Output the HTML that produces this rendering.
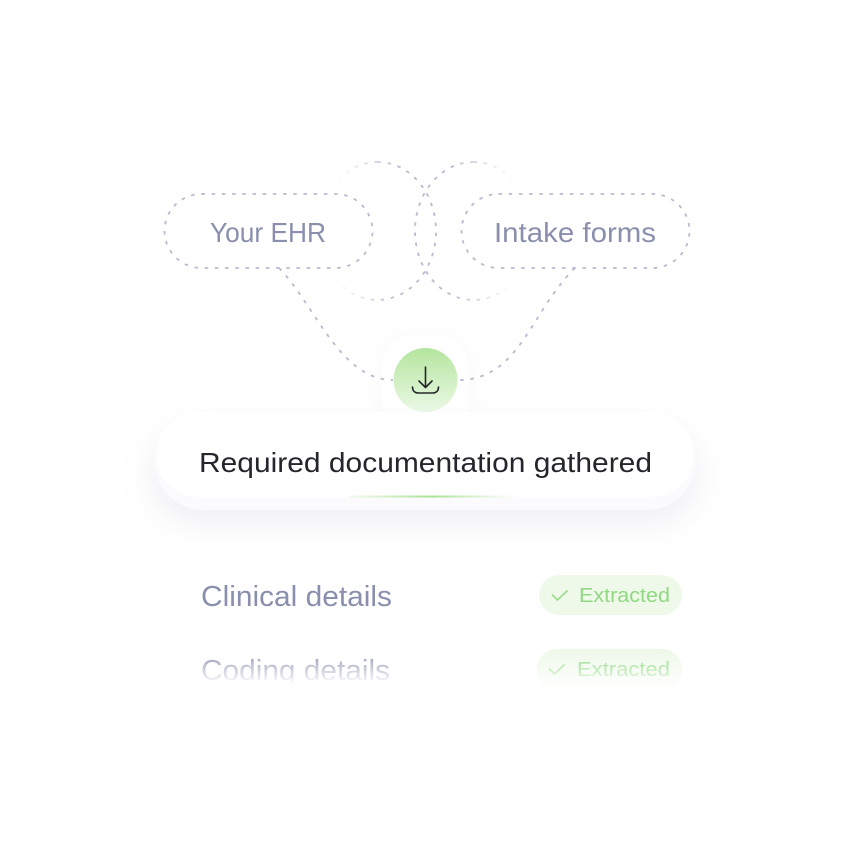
<!DOCTYPE html>
<html><head><meta charset="utf-8"><style>
html,body{margin:0;padding:0;background:#fff;width:853px;height:853px;overflow:hidden}
svg{display:block}
text{font-family:"Liberation Sans",sans-serif}
</style></head><body>
<svg width="853" height="853" viewBox="0 0 853 853" xmlns="http://www.w3.org/2000/svg">
<defs>
<linearGradient id="fl" gradientUnits="userSpaceOnUse" x1="335" y1="0" x2="400" y2="0"><stop offset="0" stop-color="#b9b9d0" stop-opacity="0"/><stop offset="1" stop-color="#b9b9d0"/></linearGradient>
<linearGradient id="fr" gradientUnits="userSpaceOnUse" x1="515" y1="0" x2="450" y2="0"><stop offset="0" stop-color="#b9b9d0" stop-opacity="0"/><stop offset="1" stop-color="#b9b9d0"/></linearGradient>
<linearGradient id="g" x1="0" y1="0" x2="0" y2="1"><stop offset="0" stop-color="#b4e59e"/><stop offset="1" stop-color="#ebf9e5"/></linearGradient>
<linearGradient id="bar" x1="0" y1="0" x2="1" y2="0"><stop offset="0" stop-color="#b5e6a0" stop-opacity=".2"/><stop offset=".5" stop-color="#a8e290"/><stop offset="1" stop-color="#b5e6a0" stop-opacity="0"/></linearGradient>
<linearGradient id="fade" gradientUnits="userSpaceOnUse" x1="0" y1="650" x2="0" y2="684"><stop offset="0" stop-color="#fff" stop-opacity="0"/><stop offset="1" stop-color="#fff"/></linearGradient>
<linearGradient id="fade2" gradientUnits="userSpaceOnUse" x1="0" y1="652" x2="0" y2="690"><stop offset="0" stop-color="#fff" stop-opacity="0"/><stop offset="1" stop-color="#fff"/></linearGradient>
<filter id="sh" x="-20%" y="-60%" width="140%" height="240%"><feGaussianBlur stdDeviation="18"/></filter>
<filter id="sh2" x="-50%" y="-50%" width="200%" height="200%"><feGaussianBlur stdDeviation="10"/></filter>
</defs>

<g fill="none" stroke-width="1.800" stroke-dasharray="3.500 6.700">
<rect x="319" y="162" width="117" height="138" rx="58.500" ry="69" stroke="url(#fl)"/>
<rect x="415" y="162" width="117" height="138" rx="58.500" ry="69" stroke="url(#fr)"/>
<rect x="164.500" y="194" width="208" height="74" rx="37" fill="#fff" stroke="#b9b9d0"/>
<rect x="461.500" y="194" width="228" height="74" rx="37" fill="#fff" stroke="#b9b9d0"/>
</g>

<text x="210" y="242" font-size="28" fill="#8a8fae" textLength="116" lengthAdjust="spacingAndGlyphs">Your EHR</text>
<text x="494" y="242" font-size="28" fill="#8a8fae" textLength="162" lengthAdjust="spacingAndGlyphs">Intake forms</text>

<path d="M381 412V370a35 35 0 0 1 35-35h19a35 35 0 0 1 35 35v42z" fill="#f1f1f5" filter="url(#sh2)" opacity=".45"/>
<path d="M382 412V368a33 33 0 0 1 33-33h21a33 33 0 0 1 33 33v44z" fill="#fff"/>
<g fill="none" stroke="#b9b9d0" stroke-width="1.800" stroke-dasharray="3.500 6.700">
<path d="M279 268C315 305 340 380 393 380"/>
<path d="M575 268C530 312 520 380 458 380"/>
</g>
<circle cx="425.500" cy="380" r="32" fill="url(#g)"/>
<g fill="none" stroke="#23262b" stroke-width="1.600" stroke-linecap="round" stroke-linejoin="round">
<path d="M425.500 367v20M419 381l6.500 6.500 6.500-6.500"/>
<path d="M412.500 387c0 4 2.500 6 6 6h14c3.500 0 6-2 6-6"/>
</g>

<rect x="154" y="430" width="542" height="90" rx="45" fill="#d8d8e2" opacity=".45" filter="url(#sh)"/>
<rect x="154" y="412" width="542" height="98" rx="49" fill="#fbfafc"/>
<rect x="156" y="412" width="538" height="85" rx="42.500" fill="#fff"/>
<rect x="350" y="495.500" width="165" height="2" fill="url(#bar)"/>
<text x="199" y="472" font-size="28" fill="#25262b" textLength="453" lengthAdjust="spacingAndGlyphs">Required documentation gathered</text>

<text x="201" y="606" font-size="29" fill="#8a8fae" textLength="191" lengthAdjust="spacingAndGlyphs">Clinical details</text>
<rect x="539" y="575" width="143" height="40" rx="20" fill="#eff9ea"/>
<path d="M552 594.500l5.500 5.500 10-9.500" fill="none" stroke="#9adb8a" stroke-width="1.600"/>
<text x="579" y="602" font-size="20" fill="#8fd981" textLength="91" lengthAdjust="spacingAndGlyphs">Extracted</text>

<text x="201" y="680" font-size="29" fill="#8a8fae" textLength="189" lengthAdjust="spacingAndGlyphs">Coding details</text>
<rect x="537" y="649" width="145" height="42" rx="20" fill="#eff9ea"/>
<path d="M549 668.500l5.500 5.500 10-9.500" fill="none" stroke="#9adb8a" stroke-width="1.600"/>
<text x="577" y="676" font-size="20" fill="#8fd981" textLength="93" lengthAdjust="spacingAndGlyphs">Extracted</text>
<rect x="180" y="645" width="340" height="60" fill="url(#fade)"/>
<rect x="520" y="645" width="180" height="60" fill="url(#fade2)"/>
</svg>
</body></html>
